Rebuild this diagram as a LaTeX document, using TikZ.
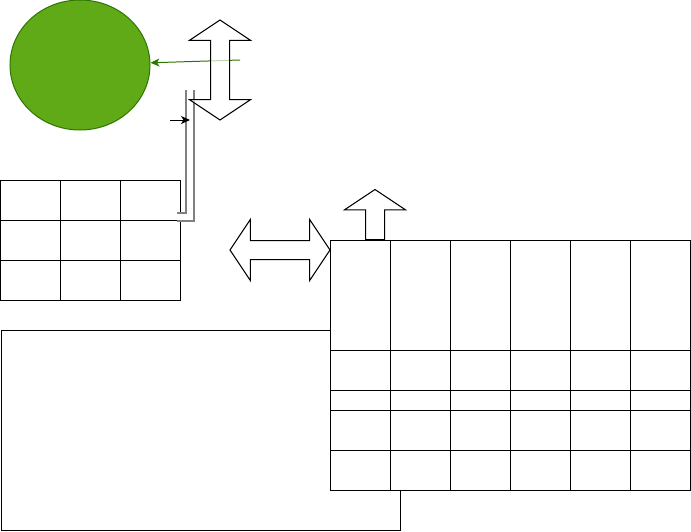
\documentclass[tikz,border=0pt]{standalone}
\usetikzlibrary{shapes.geometric, shapes.arrows, arrows.meta, positioning}

\definecolor{leaf}{HTML}{60A917}
\definecolor{leafdark}{HTML}{2D7600}

\begin{document}
\begin{tikzpicture}[
      x=1pt, y=-1pt,
      cell/.style={rectangle, draw, line width=1pt, fill=white, inner sep=0pt, anchor=north west, minimum width=60pt},
      blobstyle/.style={ellipse, draw=leafdark, fill=leaf, line width=1pt, minimum width=140pt, minimum height=130pt},
      fatarrow/.style={double arrow, draw, line width=1pt, fill=white, fill opacity=0.7, inner xsep=0pt, inner ysep=9pt, minimum width=60pt, double arrow tip angle=112.6, double arrow head extend=21pt},
      uparrow/.style={single arrow, draw, line width=1pt, fill=white, inner xsep=0pt, inner ysep=9pt, minimum width=60pt, minimum height=50pt, single arrow tip angle=112.6, single arrow head extend=21pt, rotate=90},
      pipe/.style={draw=gray, double=white, double distance=5.5pt, line width=2pt},
      pointer/.style={-{Stealth[length=9pt, width=8pt, inset=2.5pt]}, line width=1pt}
    ]
    \useasboundingbox (0,0) rectangle (691,531);

    % big frame under the right table
    \node[cell, minimum width=399pt, minimum height=200pt] (frame) at (1,330) {};

    % right table
    \foreach \y/\h [count=\r] in {240/110pt, 350/40pt, 390/20pt, 410/40pt, 450/40pt}
      \foreach \c in {0,...,5}
        \node[cell, minimum height=\h] (r\r\c) at (330+60*\c, \y) {};

    % left table
    \foreach \r in {0,1,2}
      \foreach \c in {0,1,2}
        \node[cell, minimum height=40pt] (l\r\c) at (60*\c, 180+40*\r) {};

    \node[blobstyle] (blob) at (80,65) {};

    % pipe into the left table
    \coordinate (ptop) at (190,90);
    \coordinate (pbend) at (190,217);
    \coordinate (pend) at (177,217);
    \draw[pipe] (ptop) -- (pbend) -- (pend);

    \coordinate (gstart) at (240,60);
    \draw[-{Stealth[length=9pt, width=8pt, inset=2.5pt]}, leafdark, line width=1pt] (gstart) -- (blob);

    \node[fatarrow, minimum height=100pt, rotate=90] (vert) at (220,70) {};
    \node[fatarrow, minimum height=100pt] (horiz) at (280,250) {};
    \node[uparrow, anchor=tail] (up) at (375,240) {};

    \coordinate (tick) at (170,120);
    \coordinate (tickend) at (190,120);
    \draw[pointer] (tick) -- (tickend);
  \end{tikzpicture}
\end{document}
